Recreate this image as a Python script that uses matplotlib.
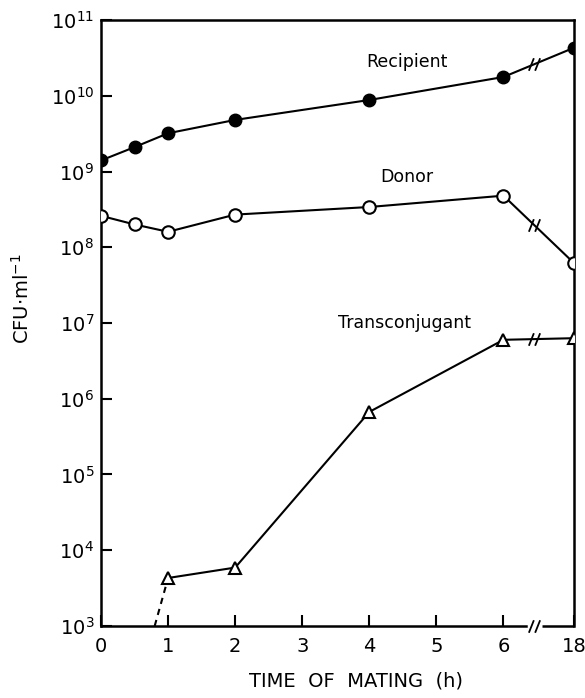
import numpy as np
import matplotlib
matplotlib.use('Agg')
import matplotlib.pyplot as plt
from matplotlib.path import Path

# Time of mating (h); the last point (18 h) sits past an axis break
time_labels = ['0', '1', '2', '3', '4', '5', '6', '18']
recipient_t = [0, 0.5, 1, 2, 4, 6, 18]
recipient_cfu = [1.4e9, 2.1e9, 3.2e9, 4.8e9, 8.8e9, 1.77e10, 4.3e10]
donor_t = [0, 0.5, 1, 2, 4, 6, 18]
donor_cfu = [2.6e8, 2.0e8, 1.6e8, 2.7e8, 3.4e8, 4.8e8, 6.2e7]
trans_t = [1, 2, 4, 6, 18]
trans_cfu = [4.3e3, 5.9e3, 6.7e5, 6.0e6, 6.3e6]
# dashed extrapolation of transconjugant down to the detection limit
trans_dash_t = [0.8, 1]
trans_dash_cfu = [1e3, 4.3e3]

# where 18 h is drawn on the x axis, and where the break goes
POS_18 = 7.05
BREAK_X = 6.45


def xpos(t):
    return [POS_18 if v == 18 else v for v in t]


# "//" marker for the breaks
slash = Path([(-0.9, -1.0), (-0.1, 1.0), (0.1, -1.0), (0.9, 1.0)],
             [Path.MOVETO, Path.LINETO, Path.MOVETO, Path.LINETO])


def break_on_line(ax, t, cfu):
    # put the break mark on the segment between 6 h and 18 h
    y0, y1 = np.log10(cfu[-2]), np.log10(cfu[-1])
    f = (BREAK_X - 6) / (POS_18 - 6)
    y = 10 ** (y0 + f * (y1 - y0))
    ax.plot([BREAK_X], [y], marker=slash, ms=9, mew=1.3, color='k',
            linestyle='none', zorder=4)


fig = plt.figure(figsize=(5.85, 6.98), dpi=100)
ax = fig.add_axes([0.1727, 0.1032, 0.8083, 0.8681])

lw = 1.5
ax.plot(xpos(recipient_t), recipient_cfu, '-o', color='k', lw=lw, ms=9,
        mfc='k', mec='k', zorder=3)
ax.plot(xpos(donor_t), donor_cfu, '-o', color='k', lw=lw, ms=9,
        mfc='white', mec='k', mew=1.5, zorder=3)
ax.plot(xpos(trans_t), trans_cfu, '-^', color='k', lw=lw, ms=8.5,
        mfc='white', mec='k', mew=1.5, zorder=3)
ax.plot(trans_dash_t, trans_dash_cfu, '--', color='k', lw=lw,
        dashes=(3, 2.5), zorder=2)

for t, c in [(recipient_t, recipient_cfu), (donor_t, donor_cfu),
             (trans_t, trans_cfu)]:
    break_on_line(ax, xpos(t), c)

ax.set_yscale('log')
ax.set_ylim(1e3, 1e11)
ax.set_xlim(0, POS_18)
ax.set_yticks([10.0 ** k for k in range(3, 12)])
ax.minorticks_off()
ax.set_xticks(list(range(7)) + [POS_18])
ax.set_xticklabels(time_labels)

for s in ax.spines.values():
    s.set_linewidth(1.8)
ax.spines['bottom'].set_bounds(0, BREAK_X - 0.12)
ax.plot([BREAK_X + 0.12, POS_18], [0, 0], color='k', lw=1.8,
        transform=ax.get_xaxis_transform(), clip_on=False,
        solid_capstyle='butt')
ax.plot([BREAK_X], [0], marker=slash, ms=9, mew=1.3, color='k',
        transform=ax.get_xaxis_transform(), clip_on=False, zorder=5)

ax.tick_params(direction='in', length=8, width=1.5, labelsize=14, pad=8)
ax.tick_params(axis='y', pad=5)

ax.text(3.96, 2.8e10, 'Recipient', fontsize=12.5, va='center')
ax.text(4.16, 8.5e8, 'Donor', fontsize=12.5, va='center')
ax.text(3.53, 1.0e7, 'Transconjugant', fontsize=12.5, va='center')

ax.set_xlabel('TIME  OF  MATING  (h)', fontsize=14)
ax.xaxis.set_label_coords(0.54, -0.075)
ax.set_ylabel(r'CFU$\cdot$ml$^{-1}$', fontsize=14)
ax.yaxis.set_label_coords(-0.145, 0.54)

fig.savefig('out.png', dpi=100)
